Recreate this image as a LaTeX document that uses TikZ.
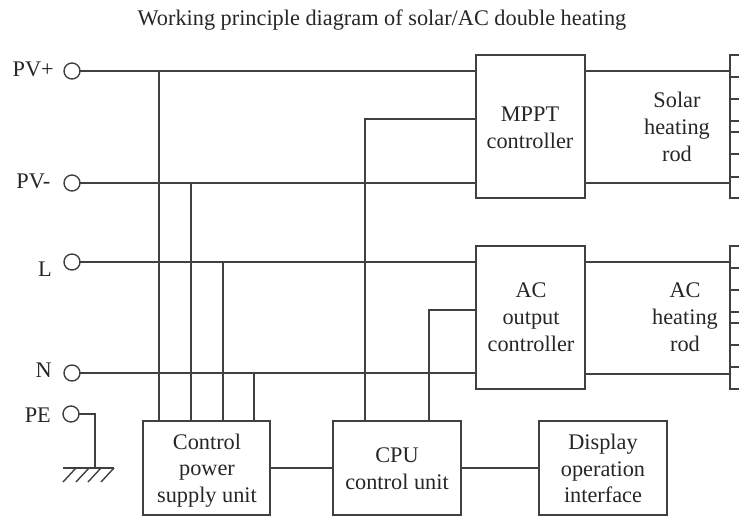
\documentclass[tikz,border=0pt]{standalone}
\usepackage{fontspec}
\setmainfont{Liberation Serif}
\tikzset{
  wire/.style={draw=black!75,line width=1.4pt},
  blockbox/.style={draw=black!75,line width=1.4pt,outer sep=0pt,inner sep=0pt,anchor=north west},
  term/.style={circle,draw=black!75,line width=1.4pt,fill=white,minimum size=16pt,inner sep=0pt,outer sep=0pt},
  lab/.style={font=\fontsize{22.3}{26.8}\selectfont,text=black!85,align=center,inner sep=0pt},
}
\begin{document}
\begin{tikzpicture}[x=1pt,y=-1pt]
\useasboundingbox (0,0) rectangle (739,516);
\clip (0,0) rectangle (739,516);
\node[lab,anchor=base] (title) at (382,25.5) {Working principle diagram of solar/AC double heating};
% boxes
\node[blockbox,minimum width=109pt,minimum height=143pt] (mppt) at (476,55) {};
\node[blockbox,minimum width=109pt,minimum height=143pt] (acc) at (476,246) {};
\node[blockbox,minimum width=127pt,minimum height=94pt] (psu) at (143,421) {};
\node[blockbox,minimum width=128pt,minimum height=94pt] (cpu) at (333,421) {};
\node[blockbox,minimum width=128pt,minimum height=94pt] (disp) at (539,421) {};
\node[blockbox,minimum width=40pt,minimum height=143pt] (solar) at (730,55) {};
\node[blockbox,minimum width=40pt,minimum height=143pt] (acrod) at (730,246) {};
% box texts
\node[lab] (mpptl) at (530,127.5) {MPPT\\controller};
\node[lab] (accl) at (531,317.5) {AC\\output\\controller};
\node[lab] (psul) at (207,470.5) {Control\\power\\supply unit};
\node[lab] (cpul) at (397,469) {CPU\\control unit};
\node[lab] (displ) at (603,468.5) {Display\\operation\\interface};
\node[lab] (solarl) at (677,127) {Solar\\heating\\rod};
\node[lab] (acl) at (685,317.5) {AC\\heating\\rod};
% rod ticks
\foreach \y in {77,99,121,132,154,177}{\draw[wire] (730,\y) -- (739,\y);}
\foreach \y in {268,290,312,323,345,367}{\draw[wire] (730,\y) -- (739,\y);}
% terminals
\node[term] (pvp) at (72,71) {};
\node[term] (pvm) at (72,183) {};
\node[term] (l) at (72,262) {};
\node[term] (n) at (72,373) {};
\node[term] (pe) at (71,414) {};
\node[lab,anchor=base east] (pvpl) at (54,77) {PV+};
\node[lab,anchor=base east] (pvml) at (50.5,189) {PV-};
\node[lab,anchor=base east] (ll) at (52,276) {L};
\node[lab,anchor=base east] (nl) at (52,377) {N};
\node[lab,anchor=base east] (pel) at (51,422) {PE};
% main wires
\draw[wire] (pvp.east) -- (mppt.west |- pvp);
\draw[wire] (pvm.east) -- (mppt.west |- pvm);
\draw[wire] (l.east) -- (acc.west |- l);
\draw[wire] (n.east) -- (acc.west |- n);
\coordinate (a1) at (585,71); \coordinate (a2) at (730,71);
\coordinate (b1) at (585,183); \coordinate (b2) at (730,183);
\coordinate (c1) at (585,262); \coordinate (c2) at (730,262);
\coordinate (d1) at (585,374); \coordinate (d2) at (730,374);
\draw[wire] (a1) -- (a2); \draw[wire] (b1) -- (b2);
\draw[wire] (c1) -- (c2); \draw[wire] (d1) -- (d2);
% drops to power unit
\coordinate (p1) at (159,421); \coordinate (p2) at (191,421);
\coordinate (p3) at (223,421); \coordinate (p4) at (254,421);
\draw[wire] (p1) -- (p1 |- pvp);
\draw[wire] (p2) -- (p2 |- pvm);
\draw[wire] (p3) -- (p3 |- l);
\draw[wire] (p4) -- (p4 |- n);
% CPU control lines
\coordinate (q1) at (365,421); \coordinate (q2) at (365,119); \coordinate (q3) at (476,119);
\coordinate (r1) at (429,421); \coordinate (r2) at (429,310); \coordinate (r3) at (476,310);
\draw[wire] (q1) -- (q2) -- (q3);
\draw[wire] (r1) -- (r2) -- (r3);
% horizontal links
\coordinate (s1) at (270,468); \coordinate (s2) at (333,468);
\coordinate (t1) at (461,468); \coordinate (t2) at (539,468);
\draw[wire] (s1) -- (s2);
\draw[wire] (t1) -- (t2);
% earth
\coordinate (g0) at (95,414); \coordinate (g1) at (95,468);
\draw[wire] (pe.east) -- (g0) -- (g1);
\coordinate (gl) at (63,468); \coordinate (gr) at (114,468);
\draw[wire] (gl) -- (gr);
\foreach \x in {76,89,101,114}{\draw[wire] (\x,468) -- (\x-13,482);}
\end{tikzpicture}
\end{document}
